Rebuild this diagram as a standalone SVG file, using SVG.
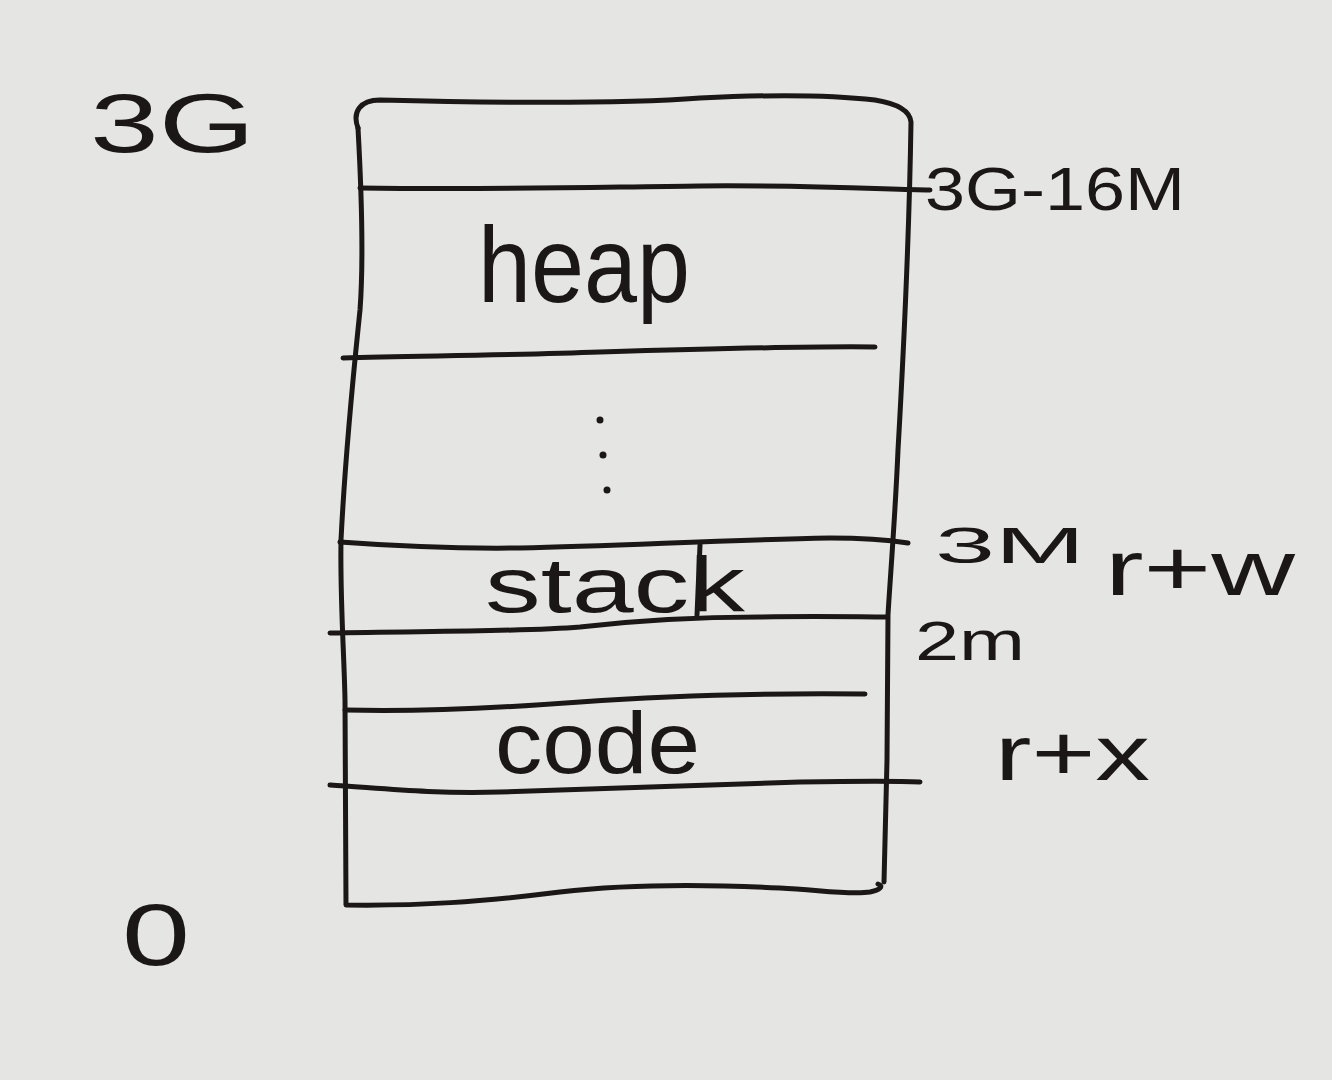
<svg xmlns="http://www.w3.org/2000/svg" width="1332" height="1080" viewBox="0 0 1332 1080">
<style>
.ink{fill:none;stroke:#1c1717;stroke-width:5;stroke-linecap:round;stroke-linejoin:round}
.t{font-family:"Liberation Sans","DejaVu Sans",sans-serif;fill:#1c1717}
</style>
<rect width="1332" height="1080" fill="#e5e5e3"/>
<g id="memory-box">
<path class="ink" d="M358,128 C352,112 360,100 380,100 C500,103 620,104 700,98 C780,94 840,96 875,100 C900,104 910,112 911,122 C909,250 902,380 898,450 C895,520 890,580 888,615 L887,760 L884,882"/>
<path class="ink" d="M358,128 C362,200 363,270 360,310 C356,350 346,440 341,540 C340,600 344,650 345,700 L346,905 C420,906 480,902 560,892 C620,885 700,884 780,888 C820,890 850,895 870,892 C880,890 884,886 878,884"/>
</g>
<g id="connectors">
<path class="ink" d="M360,188 C500,190 600,187 700,186 C800,185 880,189 930,190"/>
<path class="ink" d="M343,358 C420,356 520,355 600,352 C700,349 800,346 875,347"/>
<path class="ink" d="M340,542 C380,545 440,549 520,548 C620,546 720,540 830,538 C870,538 895,541 908,543"/>
<path class="ink" d="M700,545 L697,615"/>
<path class="ink" d="M330,633 C420,631 520,632 580,627 C640,620 700,617 760,617 C820,616 860,617 886,617"/>
<path class="ink" d="M345,710 C420,712 500,708 580,702 C660,696 760,693 865,694"/>
<path class="ink" d="M330,785 C380,788 430,794 500,792 C600,789 700,785 800,782 C860,781 900,781 920,782"/>
<circle cx="600" cy="420" r="3.5" fill="#1c1717"/>
<circle cx="603" cy="455" r="3.5" fill="#1c1717"/>
<circle cx="607" cy="490" r="3.5" fill="#1c1717"/>
</g>
<g id="label-3G"><text class="t" x="90" y="152" font-size="84" textLength="165" lengthAdjust="spacingAndGlyphs">3G</text></g>
<g id="label-0"><text class="t" x="122" y="965" font-size="88" textLength="68" lengthAdjust="spacingAndGlyphs">0</text></g>
<g id="heap"><text class="t" x="478" y="302" font-size="108" textLength="212" lengthAdjust="spacingAndGlyphs">heap</text></g>
<g id="stack"><text class="t" x="485" y="612" font-size="78" textLength="260" lengthAdjust="spacingAndGlyphs">stack</text></g>
<g id="code"><text class="t" x="495" y="773" font-size="88" textLength="205" lengthAdjust="spacingAndGlyphs">code</text></g>
<g id="label-3G-16M"><text class="t" x="925" y="210" font-size="62" textLength="260" lengthAdjust="spacingAndGlyphs">3G-16M</text></g>
<g id="label-3M"><text class="t" x="935" y="563" font-size="50" textLength="150" lengthAdjust="spacingAndGlyphs">3M</text></g>
<g id="label-rw"><text class="t" x="1105" y="595" font-size="78" textLength="190" lengthAdjust="spacingAndGlyphs">r+w</text></g>
<g id="label-2m"><text class="t" x="915" y="660" font-size="56" textLength="110" lengthAdjust="spacingAndGlyphs">2m</text></g>
<g id="label-rx"><text class="t" x="995" y="780" font-size="78" textLength="155" lengthAdjust="spacingAndGlyphs">r+x</text></g>
</svg>
